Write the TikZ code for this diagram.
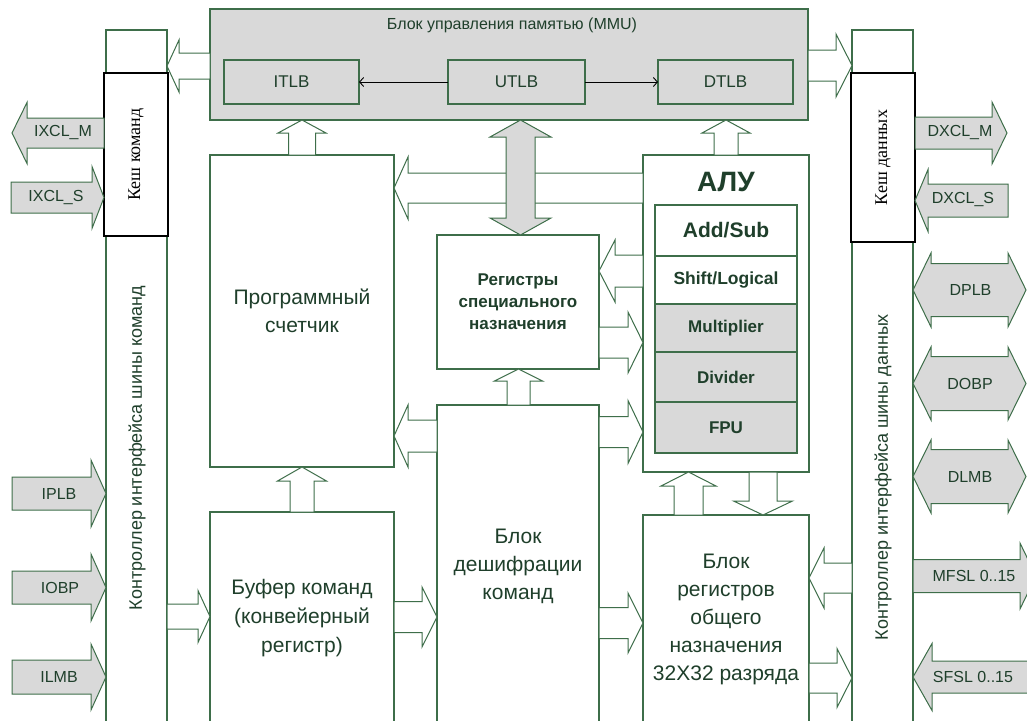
\documentclass[tikz,border=0pt]{standalone}
\usepackage{fontspec}
\setmainfont{Liberation Sans}
\newfontfamily\cacheserif{Liberation Serif}
\usetikzlibrary{calc,arrows.meta}
\definecolor{gline}{HTML}{3E6E4A}
\definecolor{gtext}{HTML}{1F3F2B}
\definecolor{gfill}{HTML}{D9D9D9}
% horizontal block arrow: [style] {tail} {tip} {shaft half} {head half} {head length}
\newcommand\harr[6][]{%
  \path[barrow,#1] let \p1=#2, \p2=#3, \n1={ifthenelse(\x2>\x1,1,-1)} in
   ({\x1},{\y2+#4pt}) -- ({\x2-(\n1)*#6pt},{\y2+#4pt}) -- ({\x2-(\n1)*#6pt},{\y2+#5pt})
   -- (\p2) -- ({\x2-(\n1)*#6pt},{\y2-#5pt}) -- ({\x2-(\n1)*#6pt},{\y2-#4pt})
   -- ({\x1},{\y2-#4pt}) -- cycle;}
% vertical block arrow
\newcommand\varr[6][]{%
  \path[barrow,#1] let \p1=#2, \p2=#3, \n1={ifthenelse(\y2>\y1,1,-1)} in
   ({\x2+#4pt},{\y1}) -- ({\x2+#4pt},{\y2-(\n1)*#6pt}) -- ({\x2+#5pt},{\y2-(\n1)*#6pt})
   -- (\p2) -- ({\x2-#5pt},{\y2-(\n1)*#6pt}) -- ({\x2-#4pt},{\y2-(\n1)*#6pt})
   -- ({\x2-#4pt},{\y1}) -- cycle;}
% horizontal double block arrow: {left tip} {right tip}
\newcommand\dharr[6][]{%
  \path[barrow,#1] let \p1=#2, \p2=#3 in
   (\p1) -- ({\x1+#6pt},{\y1+#5pt}) -- ({\x1+#6pt},{\y1+#4pt}) -- ({\x2-#6pt},{\y1+#4pt})
   -- ({\x2-#6pt},{\y1+#5pt}) -- (\p2) -- ({\x2-#6pt},{\y1-#5pt}) -- ({\x2-#6pt},{\y1-#4pt})
   -- ({\x1+#6pt},{\y1-#4pt}) -- ({\x1+#6pt},{\y1-#5pt}) -- cycle;}
% vertical double block arrow: {top tip} {bottom tip}
\newcommand\dvarr[6][]{%
  \path[barrow,#1] let \p1=#2, \p2=#3 in
   (\p1) -- ({\x1+#5pt},{\y1-#6pt}) -- ({\x1+#4pt},{\y1-#6pt}) -- ({\x1+#4pt},{\y2+#6pt})
   -- ({\x1+#5pt},{\y2+#6pt}) -- (\p2) -- ({\x1-#5pt},{\y2+#6pt}) -- ({\x1-#4pt},{\y2+#6pt})
   -- ({\x1-#4pt},{\y1-#6pt}) -- ({\x1-#5pt},{\y1-#6pt}) -- cycle;}
\begin{document}
\begin{tikzpicture}[x=1pt,y=-1pt,
  box/.style={draw=gline, line width=1.1pt, fill=white, inner sep=0pt, outer sep=0pt, anchor=north west},
  gbox/.style={box, fill=gfill},
  cachebox/.style={box, draw=black, line width=1.8pt},
  barrow/.style={draw=gline, line width=1pt, fill=white, line join=miter},
  garrow/.style={fill=gfill},
  lbl/.style={text=gtext, align=center, inner sep=0pt},
  big/.style={lbl, font=\fontsize{21}{28}\selectfont},
  alurow/.style={lbl, font=\bfseries\fontsize{17}{20}\selectfont},
  ext/.style={lbl, font=\fontsize{16}{18}\selectfont},
  tlbtxt/.style={lbl, font=\fontsize{17}{19}\selectfont},
  link/.style={draw=black, line width=0.9pt, -{Straight Barb[length=4pt,width=9pt]}}]
\useasboundingbox (0,0) rectangle (1027,720);
\clip (0,0) rectangle (1027,720);

% bus controller columns
\node[box, minimum width=61pt, minimum height=700pt] (icol) at (106,30) {};
\node[box, minimum width=61pt, minimum height=700pt] (dcol) at (852,30) {};
% caches
\node[cachebox, minimum width=64pt, minimum height=163pt] (icache) at (104,73) {};
\node[cachebox, minimum width=64pt, minimum height=169pt] (dcache) at (851,73) {};
\node[text=black, inner sep=0pt, rotate=90, font=\cacheserif\fontsize{18}{20}\selectfont] (icache-t) at (icache.center) {Кеш команд};
\node[text=black, inner sep=0pt, rotate=90, font=\cacheserif\fontsize{18}{20}\selectfont] (dcache-t) at (dcache.center) {Кеш данных};
\node[lbl, rotate=90, font=\fontsize{18}{20}\selectfont] (icol-t) at (137,448) {Контроллер интерфейса шины команд};
\node[lbl, rotate=90, font=\fontsize{18}{20}\selectfont] (dcol-t) at (883,477) {Контроллер интерфейса шины данных};

% MMU
\node[gbox, minimum width=598pt, minimum height=111pt] (mmu) at (210,9) {};
\node[lbl, font=\fontsize{16}{18}\selectfont] (mmu-t) at (512,25) {Блок управления памятью (MMU)};
\node[gbox, minimum width=135pt, minimum height=44pt] (itlb) at (224,60) {};
\node[gbox, minimum width=137pt, minimum height=44pt] (utlb) at (448,60) {};
\node[gbox, minimum width=135pt, minimum height=44pt] (dtlb) at (658,60) {};
\node[tlbtxt] at (itlb.center) {ITLB};
\node[tlbtxt] at (utlb.center) {UTLB};
\node[tlbtxt] at (dtlb.center) {DTLB};
\draw[link] (utlb.west) -- (itlb.east);
\draw[link] (utlb.east) -- (dtlb.west);

% main blocks
\node[box, minimum width=184pt, minimum height=312pt] (pc) at (210,155) {};
\node[box, minimum width=166pt, minimum height=317pt] (alu) at (643,155) {};
\node[box, minimum width=162pt, minimum height=134pt] (spr) at (437,235) {};
\node[box, minimum width=162pt, minimum height=330pt] (dec) at (437,405) {};
\node[box, minimum width=184pt, minimum height=230pt] (buf) at (210,512) {};
\node[box, minimum width=166pt, minimum height=230pt] (gpr) at (643,515) {};

\node[big] (pc-t) at (302,311) {Программный\\счетчик};
\node[lbl, font=\bfseries\fontsize{17}{22}\selectfont] (spr-t) at (518,302) {Регистры\\специального\\назначения};
\node[big] (dec-t) at (518,566) {Блок\\дешифрации\\команд};
\node[lbl, font=\fontsize{21}{29}\selectfont] (buf-t) at (302,618) {Буфер команд\\(конвейерный\\регистр)};
\node[big] (gpr-t) at (726,619) {Блок\\регистров\\общего\\назначения\\32X32 разряда};

% ALU
\node[lbl, font=\bfseries\fontsize{28}{30}\selectfont] (alu-t) at (726,182) {АЛУ};
\node[box, minimum width=142pt, minimum height=51pt] (addsub) at (655,205) {};
\node[box, minimum width=142pt, minimum height=48pt] (shift) at (655,256) {};
\node[gbox, minimum width=142pt, minimum height=48pt] (mult) at (655,304) {};
\node[gbox, minimum width=142pt, minimum height=50pt] (divd) at (655,352) {};
\node[gbox, minimum width=142pt, minimum height=51pt] (fpu) at (655,402) {};
\node[lbl, font=\bfseries\fontsize{21}{23}\selectfont] at (addsub.center) {Add/Sub};
\node[alurow, font=\bfseries\fontsize{17.5}{20}\selectfont] at (shift.center) {Shift/Logical};
\node[alurow] at (mult.center) {Multiplier};
\node[alurow] at (divd.center) {Divider};
\node[alurow] at (fpu.center) {FPU};

% internal hollow arrows
\harr{(mmu.west |- 0,66)}{(icol.east |- 0,66)}{13}{26}{12}
\harr{(mmu.east |- 0,65.5)}{(dcol.west |- 0,65.5)}{15.5}{31.5}{16}
\varr{(pc.north -| 302,0)}{(mmu.south -| 302,0)}{13.5}{24}{13}
\varr{(alu.north -| 726,0)}{(mmu.south -| 726,0)}{12}{24}{13}
\harr{(alu.west |- 0,188)}{(pc.east |- 0,188)}{15}{31}{14}
\harr{(alu.west |- 0,271)}{(spr.east |- 0,271)}{16}{31}{16}
\harr{(spr.east |- 0,342.5)}{(alu.west |- 0,342.5)}{15.5}{30.5}{15}
\varr{(dec.north -| 518.5,0)}{(spr.south -| 518.5,0)}{11.5}{24}{12}
\harr{(dec.west |- 0,436)}{(pc.east |- 0,436)}{16}{31}{14}
\harr{(dec.east |- 0,432)}{(alu.west |- 0,432)}{15.5}{31.5}{15}
\varr{(buf.north -| 302,0)}{(pc.south -| 302,0)}{12}{24.5}{14}
\harr{(buf.east |- 0,617)}{(dec.west |- 0,617)}{15.5}{30}{15}
\harr{(icol.east |- 0,616.5)}{(buf.west |- 0,616.5)}{12.5}{26}{12}
\harr{(dec.east |- 0,623)}{(gpr.west |- 0,623)}{15.5}{30}{15}
\varr{(gpr.north -| 688.5,0)}{(alu.south -| 688.5,0)}{14.5}{27.5}{14}
\varr{(alu.south -| 763,0)}{(gpr.north -| 763,0)}{14}{29.5}{14}
\harr{(dcol.west |- 0,578)}{(gpr.east |- 0,578)}{15}{30}{15}
\harr{(gpr.east |- 0,678)}{(dcol.west |- 0,678)}{15}{29.5}{15}

% UTLB <-> special registers
\dvarr[garrow]{(mmu.south -| 520.5,0)}{(spr.north -| 520.5,0)}{14.5}{30.5}{17}

% external ports
\coordinate (ixclm-end) at (12,133);
\coordinate (ixcls-end) at (11,197.5);
\coordinate (iplb-end) at (12,493.5);
\coordinate (iobp-end) at (12,587.5);
\coordinate (ilmb-end) at (12,677);
\coordinate (dxclm-end) at (1007,133);
\coordinate (dxcls-end) at (1008,200.5);
\coordinate (dplb-end) at (1026,290);
\coordinate (dobp-end) at (1026,383.5);
\coordinate (dlmb-end) at (1026,476.5);
\coordinate (mfsl-end) at (1036,576);
\coordinate (sfsl-end) at (1040,677);

\harr[garrow]{(icache.west |- ixclm-end)}{(ixclm-end)}{15}{30.5}{15}
\harr[garrow]{(ixcls-end)}{(icache.west |- ixcls-end)}{15.5}{31}{12}
\harr[garrow]{(iplb-end)}{(icol.west |- iplb-end)}{16.5}{33.5}{15}
\harr[garrow]{(iobp-end)}{(icol.west |- iobp-end)}{16.5}{33.5}{15}
\harr[garrow]{(ilmb-end)}{(icol.west |- ilmb-end)}{17}{33}{15}
\harr[garrow]{(dcache.east |- dxclm-end)}{(dxclm-end)}{16}{31}{15}
\harr[garrow]{(dxcls-end)}{(dcache.east |- dxcls-end)}{16.5}{31}{13}
\dharr[garrow]{(dcol.east |- dplb-end)}{(dplb-end)}{26.5}{37}{18}
\dharr[garrow]{(dcol.east |- dobp-end)}{(dobp-end)}{27}{36.5}{18}
\dharr[garrow]{(dcol.east |- dlmb-end)}{(dlmb-end)}{27}{36.5}{18}
\harr[garrow]{(dcol.east |- mfsl-end)}{(mfsl-end)}{16.5}{33}{16}
\harr[garrow]{(sfsl-end)}{(dcol.east |- sfsl-end)}{16}{33.5}{19}

\node[ext] at (63,133) {IXCL\_M};
\node[ext] at (56,198) {IXCL\_S};
\node[ext] at (59,494) {IPLB};
\node[ext] at (60,588) {IOBP};
\node[ext] at (59,677) {ILMB};
\node[ext] at (960,133) {DXCL\_M};
\node[ext] at (963,200) {DXCL\_S};
\node[ext] at (970.5,290) {DPLB};
\node[ext] at (970,383.5) {DOBP};
\node[ext] at (970,476.5) {DLMB};
\node[ext] at (974,576) {MFSL 0..15};
\node[ext] at (973,677) {SFSL 0..15};
\end{tikzpicture}
\end{document}
